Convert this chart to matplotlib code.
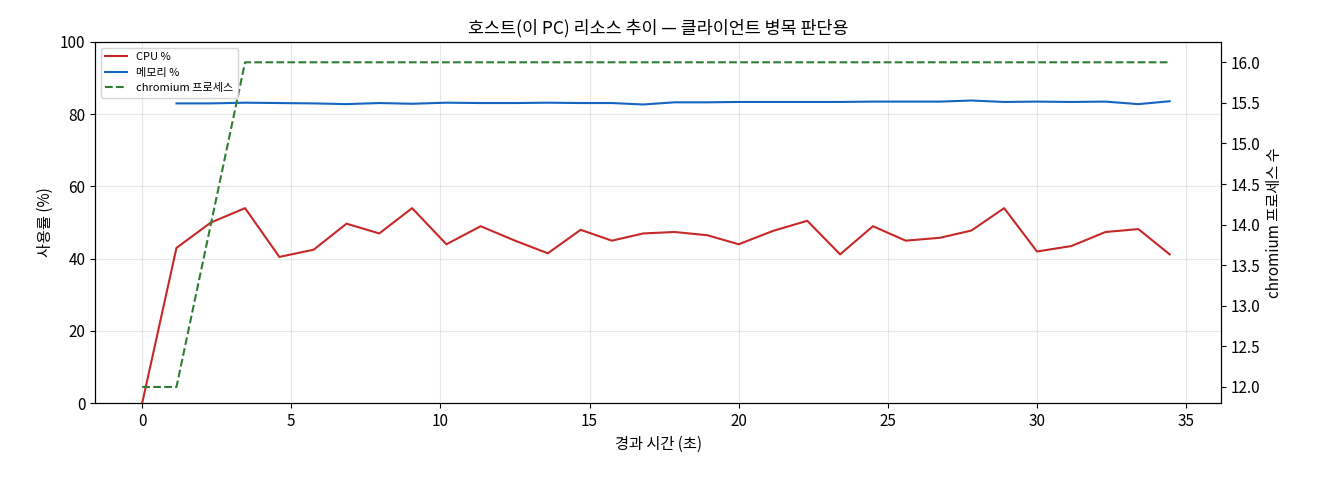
import matplotlib
matplotlib.use("Agg")
import matplotlib.pyplot as plt
import numpy as np

plt.rcParams['font.family'] = ['Noto Sans CJK KR', 'DejaVu Sans']
plt.rcParams['xtick.labelsize'] = 11
plt.rcParams['ytick.labelsize'] = 11

t = [0, 1.15, 2.3, 3.45, 4.6, 5.75, 6.85, 7.95, 9.05, 10.2, 11.35, 12.5, 13.6, 14.7, 15.75, 16.8,
     17.85, 18.95, 20.0, 21.15, 22.3, 23.4, 24.5, 25.6, 26.75, 27.8, 28.9, 30.0, 31.15, 32.3, 33.4, 34.45]
cpu = [0, 43, 50, 54, 40.5, 42.5, 49.7, 47, 54, 44, 49, 45, 41.5, 48, 45, 47,
       47.4, 46.5, 44, 47.7, 50.5, 41.2, 49, 45, 45.8, 47.8, 54, 42, 43.5, 47.4, 48.2, 41.2]
mem = [np.nan, 83.0, 83.0, 83.2, 83.1, 83.0, 82.8, 83.1, 82.9, 83.2, 83.1, 83.1, 83.2, 83.1, 83.1, 82.7,
       83.3, 83.3, 83.4, 83.4, 83.4, 83.4, 83.5, 83.5, 83.5, 83.8, 83.4, 83.5, 83.4, 83.5, 82.8, 83.6]
proc = [12, 12, 14, 16, 16, 16, 16, 16, 16, 16, 16, 16, 16, 16, 16, 16,
        16, 16, 16, 16, 16, 16, 16, 16, 16, 16, 16, 16, 16, 16, 16, 16]

fig, ax = plt.subplots(figsize=(13.2, 4.8), dpi=100)
l1, = ax.plot(t, cpu, color='#c62828', lw=1.5, label='CPU %')
l2, = ax.plot(t, mem, color='#1565c0', lw=1.5, label='메모리 %')
ax.set_ylim(0, 100)
ax.set_xlim(-1.58, 36.17)
ax.set_xlabel('경과 시간 (초)', fontsize=11)
ax.set_ylabel('사용률 (%)', fontsize=11)
ax.grid(True, alpha=0.3)
ax2 = ax.twinx()
l3, = ax2.plot(t, proc, color='#2e7d32', lw=1.5, ls='--', label='chromium 프로세스')
ax2.set_ylim(11.8, 16.25)
ax2.set_ylabel('chromium 프로세스 수', fontsize=11)
ax.set_title('호스트(이 PC) 리소스 추이 — 클라이언트 병목 판단용', fontsize=12.5)
ax2.legend([l1, l2, l3], [l.get_label() for l in (l1, l2, l3)], loc='upper left', fontsize=8)
fig.subplots_adjust(left=0.072, right=0.925, top=0.9125, bottom=0.16)
fig.savefig('out.png')
